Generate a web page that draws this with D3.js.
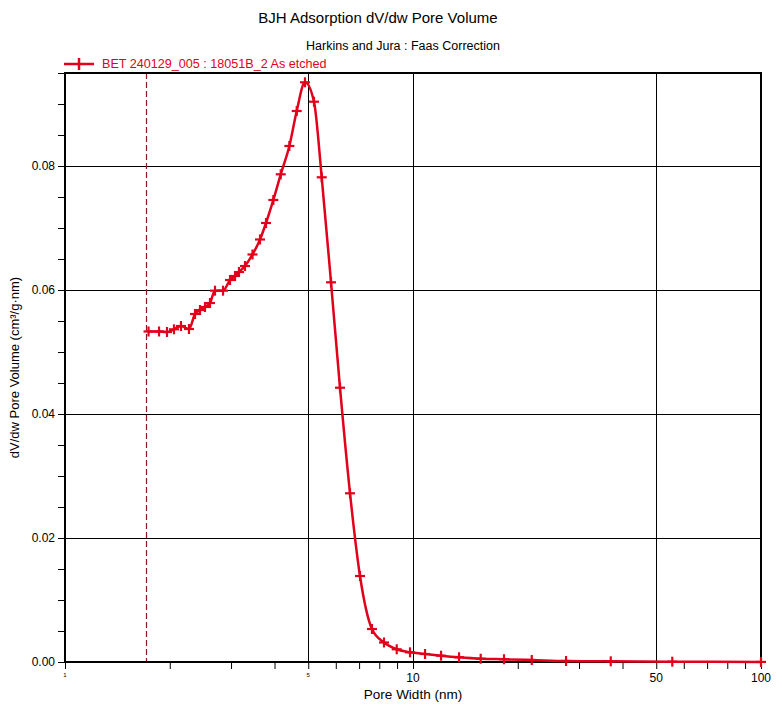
<!DOCTYPE html>
<html>
<head>
<meta charset="utf-8">
<script src="https://cdn.jsdelivr.net/npm/d3@7"></script>
<style>
  body { margin: 0; background: #fff; }
  text { font-family: "Liberation Sans", Arial, sans-serif; }
</style>
</head>
<body>
<script>
// values
const poreWidth = [1.738, 1.863, 1.964, 2.057, 2.154, 2.271, 2.364, 2.443, 2.525, 2.610,
  2.698, 2.845, 2.980, 3.080, 3.162, 3.290, 3.458, 3.634, 3.781, 3.969,
  4.168, 4.413, 4.633, 4.893, 5.194, 5.466, 5.813, 6.169, 6.592, 7.042,
  7.622, 8.254, 8.979, 9.804, 10.83, 12.04, 13.56, 15.65, 18.26, 21.94,
  27.53, 37.00, 55.60, 100];
const dvdw = [0.05331, 0.05331, 0.05323, 0.05366, 0.05419, 0.05371, 0.05613, 0.05677, 0.05726, 0.05790,
  0.05989, 0.05989, 0.06161, 0.06226, 0.06290, 0.06387, 0.06573, 0.06815, 0.07081, 0.07452,
  0.07866, 0.08323, 0.08887, 0.09350, 0.09037, 0.07818, 0.06124, 0.04424, 0.02721, 0.01387,
  0.00532, 0.00315, 0.00205, 0.00156, 0.00129, 0.00102, 0.00076, 0.00053, 0.00044, 0.00032,
  0.00016, 0.00011, 0.00005, 0.00001];
const yMajor = [0, 0.02, 0.04, 0.06, 0.08];
const yMinor = d3.range(0, 0.0951, 0.005);
const xGrid = [5, 10, 50];
const xBigLabels = [10, 50, 100];
const xSmallLabels = [1, 5];
const xMinor = [2, 3, 4, 6, 7, 8, 9, 20, 30, 40, 60, 70, 80, 90];
const markerWidth = 1.71;   // dashed reference line
const seriesName = 'BET 240129_005 : 18051B_2 As etched';

const width = 782, height = 706;
const margin = {top: 73, right: 21, bottom: 44, left: 65};
const red = '#e2001a';

const svg = d3.select('body').append('svg')
  .attr('width', width)
  .attr('height', height);

const x = d3.scaleLog().domain([1, 100]).range([margin.left, width - margin.right]);
const y = d3.scaleLinear().domain([0, 0.095]).range([height - margin.bottom, margin.top]);

const x0 = x.range()[0], x1 = x.range()[1];
const yBot = y(0), yTop = y.range()[1];

// titles
svg.append('text').attr('x', 378).attr('y', 23)
  .attr('text-anchor', 'middle').attr('font-size', 15)
  .text('BJH Adsorption dV/dw Pore Volume');
svg.append('text').attr('x', 403).attr('y', 50)
  .attr('text-anchor', 'middle').attr('font-size', 12.5)
  .text('Harkins and Jura : Faas Correction');

// grid
const grid = svg.append('g').attr('stroke', '#000').attr('stroke-width', 1);
grid.selectAll('line.h')
  .data(yMajor.filter(d => d > 0))
  .join('line')
    .attr('class', 'h')
    .attr('x1', x0).attr('x2', x1)
    .attr('y1', d => Math.round(y(d)) + 0.5).attr('y2', d => Math.round(y(d)) + 0.5);
grid.selectAll('line.v')
  .data(xGrid)
  .join('line')
    .attr('class', 'v')
    .attr('x1', d => Math.round(x(d)) + 0.5).attr('x2', d => Math.round(x(d)) + 0.5)
    .attr('y1', yTop).attr('y2', yBot);

// dashed vertical
svg.append('line')
  .attr('x1', Math.round(x(markerWidth)) + 0.5).attr('x2', Math.round(x(markerWidth)) + 0.5)
  .attr('y1', yTop).attr('y2', yBot)
  .attr('stroke', '#8e1b1b').attr('stroke-width', 1.2)
  .attr('stroke-dasharray', '6,3');

// frame
svg.append('rect')
  .attr('x', x0).attr('y', yTop)
  .attr('width', x1 - x0).attr('height', yBot - yTop)
  .attr('fill', 'none').attr('stroke', '#000').attr('stroke-width', 2);

// y axis
const yAxis = svg.append('g')
  .attr('transform', `translate(${x0},0)`)
  .call(d3.axisLeft(y).tickValues(yMinor).tickSize(7).tickFormat(''));
yAxis.select('.domain').remove();
yAxis.selectAll('line').attr('stroke', '#000');
svg.append('g')
  .selectAll('text')
  .data(yMajor)
  .join('text')
    .attr('x', x0 - 10)
    .attr('y', d => y(d) + 4)
    .attr('text-anchor', 'end')
    .attr('font-size', 12)
    .text(d3.format('.2f'));

// x axis
const xAxis = svg.append('g')
  .attr('transform', `translate(0,${yBot})`)
  .call(d3.axisBottom(x).tickValues([...xSmallLabels, ...xMinor, ...xBigLabels]).tickSize(7).tickFormat(''));
xAxis.select('.domain').remove();
xAxis.selectAll('line').attr('stroke', '#000');
svg.append('g')
  .selectAll('text')
  .data(xBigLabels)
  .join('text')
    .attr('x', d => x(d))
    .attr('y', yBot + 20)
    .attr('text-anchor', 'middle')
    .attr('font-size', 12)
    .text(d => d);
svg.append('g')
  .selectAll('text')
  .data(xSmallLabels)
  .join('text')
    .attr('x', d => x(d))
    .attr('y', yBot + 15)
    .attr('text-anchor', 'middle')
    .attr('font-size', 6)
    .text(d => d);

// axis titles
svg.append('text')
  .attr('x', (x0 + x1) / 2).attr('y', yBot + 37)
  .attr('text-anchor', 'middle').attr('font-size', 13.5)
  .text('Pore Width (nm)');
svg.append('text')
  .attr('transform', `translate(19,${(yTop + yBot) / 2}) rotate(-90)`)
  .attr('text-anchor', 'middle').attr('font-size', 13)
  .text('dV/dw Pore Volume (cm³/g·nm)');

// series
const points = poreWidth.map((w, i) => ({w, v: dvdw[i]}));
const line = d3.line()
  .x(d => x(d.w))
  .y(d => y(d.v))
  .curve(d3.curveMonotoneX);

svg.append('path')
  .datum(points)
  .attr('d', line)
  .attr('fill', 'none')
  .attr('stroke', red)
  .attr('stroke-width', 2.5);

const mark = (g, cx, cy) => {
  g.append('line').attr('x1', cx - 5).attr('x2', cx + 5).attr('y1', cy).attr('y2', cy);
  g.append('line').attr('x1', cx).attr('x2', cx).attr('y1', cy - 5).attr('y2', cy + 5);
};
const marks = svg.append('g').attr('stroke', red).attr('stroke-width', 2.2);
points.forEach(d => mark(marks, x(d.w), y(d.v)));

// legend
const legend = svg.append('g').attr('stroke', red).attr('stroke-width', 2.5);
legend.append('line').attr('x1', 64).attr('x2', 94).attr('y1', 64).attr('y2', 64);
legend.append('line').attr('x1', 79).attr('x2', 79).attr('y1', 58).attr('y2', 70);
svg.append('text')
  .attr('x', 102).attr('y', 68)
  .attr('font-size', 12.6)
  .attr('fill', red)
  .text(seriesName);
</script>
</body>
</html>
